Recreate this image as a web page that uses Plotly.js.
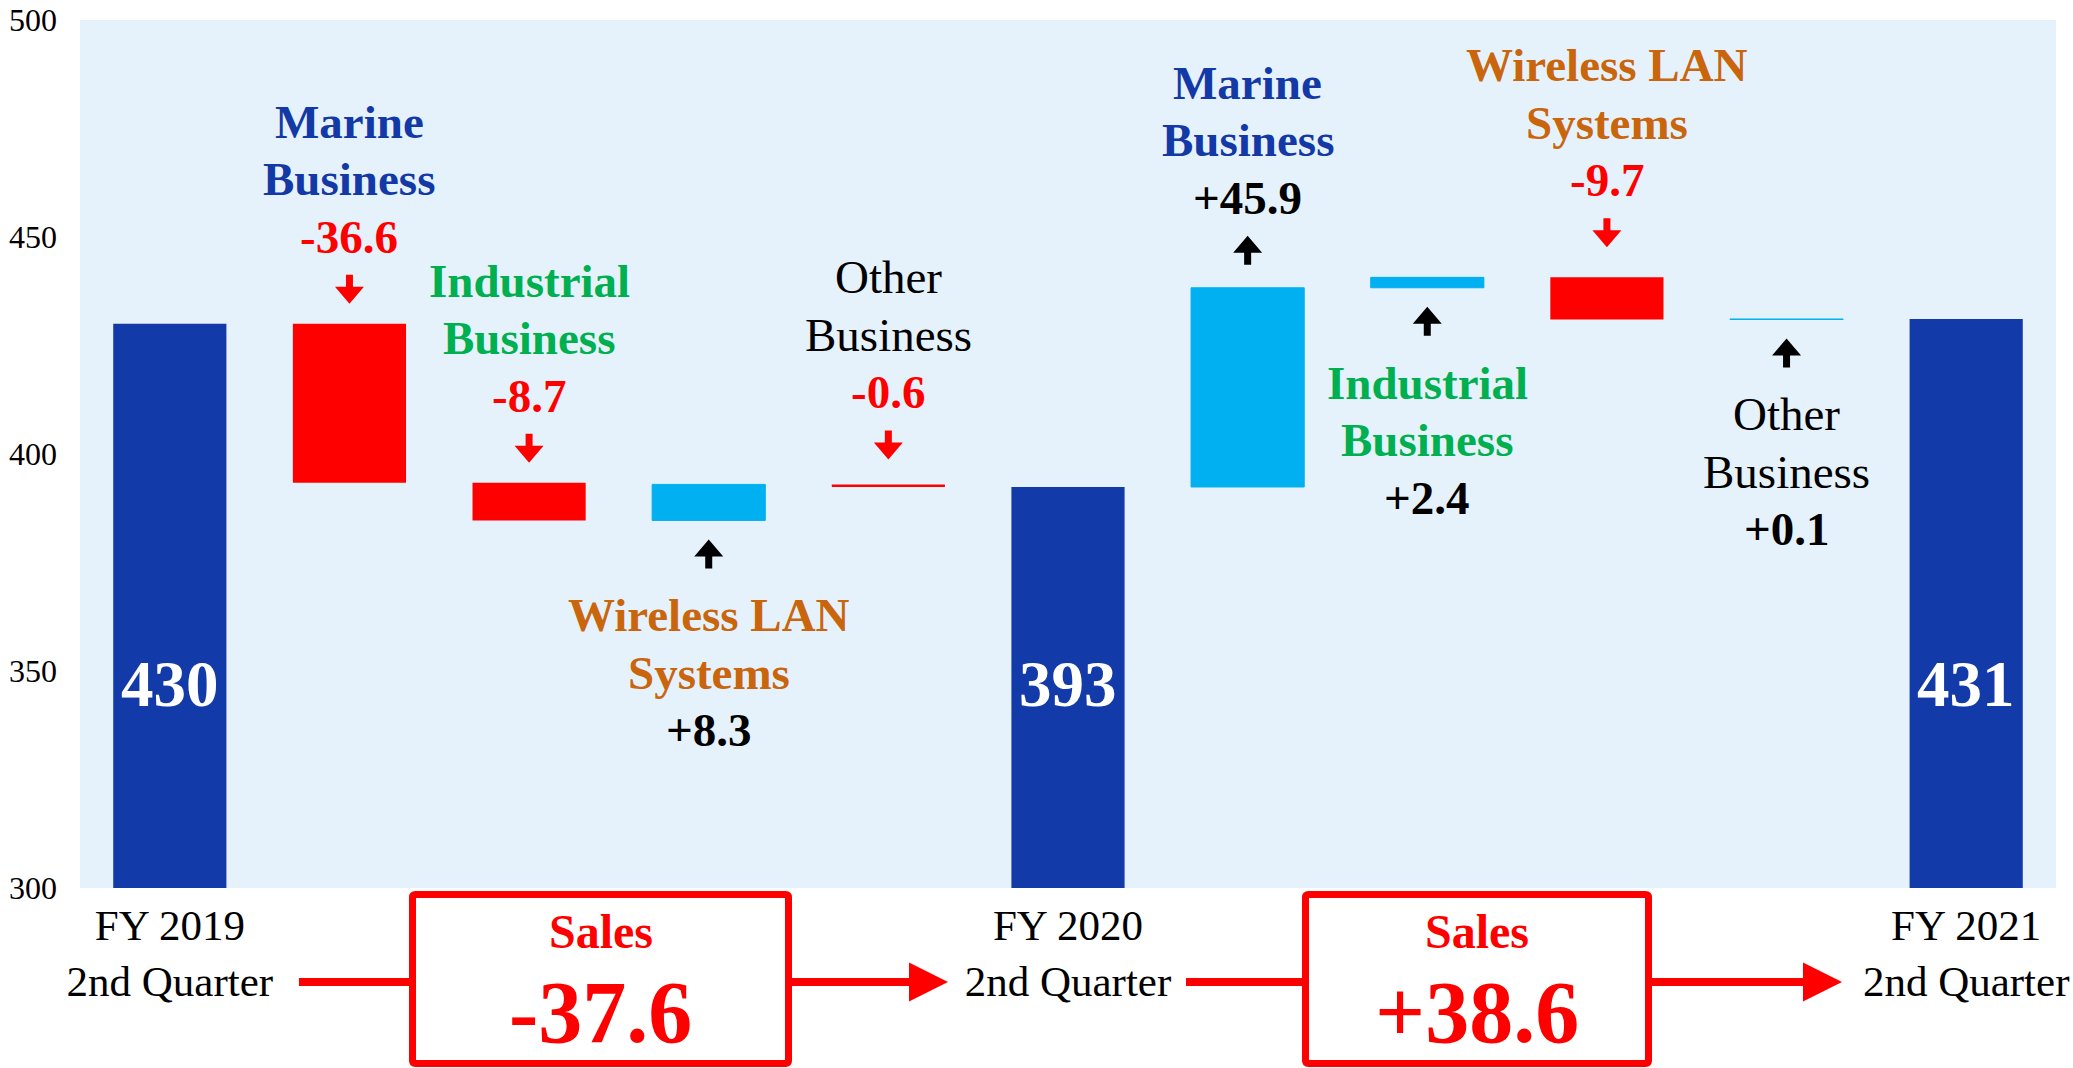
<!DOCTYPE html>
<html>
<head>
<meta charset="utf-8">
<script src="https://cdn.plot.ly/plotly-3.0.1.min.js"></script>
<style>
html,body{margin:0;padding:0;background:#ffffff;}
#chart{width:2073px;height:1068px;}
</style>
</head>
<body>
<div id="chart"></div>
<script>
// ---------------- data ----------------
const startValue = 430;                         // FY 2019 2nd Quarter sales
const changes2020 = [-36.6, -8.7, 8.3, -0.6];   // FY2019 -> FY2020 by business
const changes2021 = [45.9, 2.4, -9.7, 0.1];     // FY2020 -> FY2021 by business
const segmentLines = [["Marine", "Business"], ["Industrial", "Business"], ["Wireless LAN", "Systems"], ["Other", "Business"]];
const periodLabels = ["FY 2019<br>2nd Quarter", "FY 2020<br>2nd Quarter", "FY 2021<br>2nd Quarter"];
const totalLabels = ["430", "393", "431"];
const salesChanges = ["-37.6", "+38.6"];
const salesTitle = "Sales";
const yTicks = [300, 350, 400, 450, 500];

// ---------------- styles ----------------
const FONT = "'Liberation Serif', 'Times New Roman', Times, serif";
const segmentColors = ["#1339A6", "#00B050", "#C9650C", "#000000"];
const segmentBold = [true, true, true, false];
const labelSides = ["above", "above", "below", "above", "above", "below", "above", "below"];
const labelNudge = [0, 0, 0, 5, 3, 0, 10, 0];   // extra upward pixel shift per label
const C_TOTAL = "#123AA8", C_UP = "#00B0F0", C_DOWN = "#FF0000";

// ---------------- build waterfall ----------------
const xs = [], measures = [], ys = [];
xs.push(0); measures.push("absolute"); ys.push(startValue);
changes2020.forEach(c => { xs.push(xs.length); measures.push("relative"); ys.push(c); });
xs.push(xs.length); measures.push("total"); ys.push(0);
changes2021.forEach(c => { xs.push(xs.length); measures.push("relative"); ys.push(c); });
xs.push(xs.length); measures.push("total"); ys.push(0);

const trace = {
  type: "waterfall",
  x: xs, y: ys, measure: measures,
  connector: {visible: false},
  increasing: {marker: {color: C_UP, line: {color: C_UP, width: 1}}},
  decreasing: {marker: {color: C_DOWN, line: {width: 0}}},
  totals: {marker: {color: C_TOTAL, line: {width: 0}}},
  hoverinfo: "skip",
  textinfo: "none"
};

// ---------------- annotations & shapes ----------------
const annotations = [];
const shapes = [];

function arrowPath(tail, tip) {
  const d = tip > tail ? 1 : -1;
  const hb = tip - d * 17;
  return `M-3.5,${tail} L3.5,${tail} L3.5,${hb} L14.5,${hb} L0,${tip} L-14.5,${hb} L-3.5,${hb} Z`;
}

// total labels
[0, 5, 10].forEach((xi, i) => {
  annotations.push({x: xi, y: 347, xref: "x", yref: "y", text: totalLabels[i], showarrow: false,
    xanchor: "center", yanchor: "middle",
    font: {family: FONT, size: 65, color: "#ffffff", weight: "bold"}});
});

// segment labels
let run = startValue;
const allChanges = [changes2020, changes2021];
let labelIdx = 0;
allChanges.forEach((changes, p) => {
  changes.forEach((c, k) => {
    const xi = p * 5 + 1 + k;
    const lo = Math.min(run, run + c), hi = Math.max(run, run + c);
    run += c;
    const side = labelSides[labelIdx];
    const nudge = labelNudge[labelIdx];
    labelIdx++;
    const valueText = (c > 0 ? "+" : "") + c.toFixed(1);
    const lines = [
      {t: segmentLines[k][0], color: segmentColors[k], bold: segmentBold[k]},
      {t: segmentLines[k][1], color: segmentColors[k], bold: segmentBold[k]},
      {t: valueText, color: c < 0 ? C_DOWN : "#000000", bold: true}
    ];
    const arrowColor = c < 0 ? C_DOWN : "#000000";
    if (side === "above") {
      lines.forEach((ln, j) => {
        annotations.push({x: xi, y: hi, xref: "x", yref: "y", text: ln.t, showarrow: false,
          xanchor: "center", yanchor: "middle", yshift: 87 + nudge + (2 - j) * 57.5,
          font: {family: FONT, size: 47, color: ln.color, weight: ln.bold ? "bold" : "normal"}});
      });
      const path = c < 0 ? arrowPath(49 + nudge, 20 + nudge) : arrowPath(20 + nudge, 49 + nudge);
      shapes.push({type: "path", xref: "x", yref: "y", xsizemode: "pixel", ysizemode: "pixel",
        xanchor: xi, yanchor: hi, path: path, fillcolor: arrowColor, line: {width: 0}});
    } else {
      lines.forEach((ln, j) => {
        annotations.push({x: xi, y: lo, xref: "x", yref: "y", text: ln.t, showarrow: false,
          xanchor: "center", yanchor: "middle", yshift: -(95 + j * 57.5) + nudge,
          font: {family: FONT, size: 47, color: ln.color, weight: ln.bold ? "bold" : "normal"}});
      });
      shapes.push({type: "path", xref: "x", yref: "y", xsizemode: "pixel", ysizemode: "pixel",
        xanchor: xi, yanchor: lo, path: arrowPath(-48, -19), fillcolor: arrowColor, line: {width: 0}});
    }
  });
});

// ---------------- bottom sales boxes (layout in pixels -> paper) ----------------
const ML = 80, MR = 17, MT = 20, MB = 180, WIDTH = 2073, HEIGHT = 1068;
const PW = WIDTH - ML - MR, PH = HEIGHT - MT - MB;
const px = v => (v - ML) / PW;
const py = v => (HEIGHT - MB - v) / PH;

function roundRect(x0, y0, x1, y1, r) {
  return `M${px(x0 + r)},${py(y0)} L${px(x1 - r)},${py(y0)} Q${px(x1)},${py(y0)} ${px(x1)},${py(y0 + r)} ` +
         `L${px(x1)},${py(y1 - r)} Q${px(x1)},${py(y1)} ${px(x1 - r)},${py(y1)} ` +
         `L${px(x0 + r)},${py(y1)} Q${px(x0)},${py(y1)} ${px(x0)},${py(y1 - r)} ` +
         `L${px(x0)},${py(y0 + r)} Q${px(x0)},${py(y0)} ${px(x0 + r)},${py(y0)} Z`;
}

const boxes = [
  {x0: 409, x1: 792, lineL: 299, headBase: 909, tip: 948},
  {x0: 1302, x1: 1652, lineL: 1186, headBase: 1803, tip: 1842}
];
const arrowY = 982;
boxes.forEach((b, i) => {
  shapes.push({type: "path", xref: "paper", yref: "paper",
    path: roundRect(b.x0 + 3.5, 894.5, b.x1 - 3.5, 1063.5, 3),
    line: {color: C_DOWN, width: 7}, fillcolor: "rgba(255,255,255,0)"});
  shapes.push({type: "line", xref: "paper", yref: "paper",
    x0: px(b.lineL), x1: px(b.x0), y0: py(arrowY), y1: py(arrowY), line: {color: C_DOWN, width: 8}});
  shapes.push({type: "line", xref: "paper", yref: "paper",
    x0: px(b.x1), x1: px(b.headBase + 2), y0: py(arrowY), y1: py(arrowY), line: {color: C_DOWN, width: 8}});
  shapes.push({type: "path", xref: "paper", yref: "paper",
    path: `M${px(b.headBase)},${py(arrowY - 19.5)} L${px(b.tip)},${py(arrowY)} L${px(b.headBase)},${py(arrowY + 19.5)} Z`,
    fillcolor: C_DOWN, line: {width: 0}});
  const cx = px((b.x0 + b.x1) / 2);
  annotations.push({x: cx, y: py(932), xref: "paper", yref: "paper", text: salesTitle, showarrow: false,
    xanchor: "center", yanchor: "middle", font: {family: FONT, size: 48, color: C_DOWN, weight: "bold"}});
  annotations.push({x: cx, y: py(1013), xref: "paper", yref: "paper", text: salesChanges[i], showarrow: false,
    xanchor: "center", yanchor: "middle", font: {family: FONT, size: 88, color: C_DOWN, weight: "bold"}});
});

const layout = {
  width: WIDTH, height: HEIGHT,
  margin: {l: ML, r: MR, t: MT, b: MB, pad: 0},
  paper_bgcolor: "#ffffff",
  plot_bgcolor: "rgb(229,242,251)",
  showlegend: false,
  waterfallgap: 0.37,
  font: {family: FONT, color: "#000000"},
  xaxis: {type: "linear", range: [-0.5, 10.5], tickvals: [0, 5, 10], ticktext: periodLabels,
    showgrid: false, zeroline: false, showline: false, ticks: "", ticklabelstandoff: 8,
    tickfont: {family: FONT, size: 43, color: "#000000"}, fixedrange: true},
  yaxis: {range: [300, 500], tickvals: yTicks, showgrid: false, zeroline: false, showline: false,
    ticks: "", ticklabelstandoff: 22, tickfont: {family: FONT, size: 32, color: "#000000"}, fixedrange: true},
  annotations: annotations,
  shapes: shapes
};

Plotly.newPlot("chart", [trace], layout, {displayModeBar: false, staticPlot: true});
</script>
</body>
</html>
